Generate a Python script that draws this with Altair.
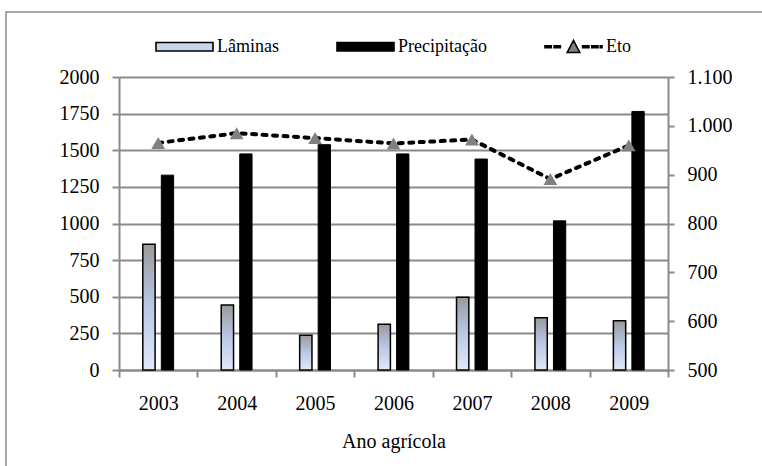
import altair as alt
import pandas as pd

# ---- data ----
anos = ["2003", "2004", "2005", "2006", "2007", "2008", "2009"]
laminas = [858, 444, 237, 312, 497, 357, 337]
precipitacao = [1330, 1475, 1538, 1475, 1440, 1018, 1765]
eto = [965, 985, 975, 964, 972, 891, 960]
series = ["Lâminas", "Precipitação", "Eto"]
left_ticks = [0, 250, 500, 750, 1000, 1250, 1500, 1750, 2000]
right_ticks = [500, 600, 700, 800, 900, 1000, 1100]

FONT = "Times New Roman"
GRAY = "#8a8a8a"

bars_df = pd.DataFrame({
    "Ano": anos * 2,
    "Serie": ["Lâminas"] * len(anos) + ["Precipitação"] * len(anos),
    "Valor": laminas + precipitacao,
})
eto_df = pd.DataFrame({"Ano": anos, "Eto": eto})
legend_df = pd.DataFrame({"Ano": [anos[0]] * 3, "Serie": series, "Eto": [eto[0]] * 3})

x_enc = alt.X(
    "Ano:N",
    scale=alt.Scale(paddingInner=0, paddingOuter=0),
    axis=alt.Axis(
        title="Ano agrícola", labelAngle=0, tickBand="extent",
        labelFont=FONT, labelFontSize=20, labelColor="black", labelPadding=16,
        titleFont=FONT, titleFontSize=20, titleFontWeight="normal", titleColor="black",
        titlePadding=18,
        domainColor=GRAY, domainWidth=2, tickColor=GRAY, tickWidth=2, tickSize=7,
        grid=False,
    ),
)
# two empty slots around the pair of bars keep the pair centred in each year
xoff_enc = alt.XOffset(
    "Serie:N",
    scale=alt.Scale(domain=["_a", "Lâminas", "Precipitação", "_b"], paddingInner=0.335, paddingOuter=0.287),
)
y_left = alt.Y(
    "Valor:Q",
    scale=alt.Scale(domain=[0, 2000], nice=False),
    axis=alt.Axis(
        title=None, values=left_ticks, format="d",
        labelFont=FONT, labelFontSize=20, labelColor="black", labelPadding=13,
        domainColor=GRAY, domainWidth=2, tickColor=GRAY, tickWidth=2, tickSize=7,
        grid=True, gridColor=GRAY, gridWidth=2,
    ),
)
right_axis = alt.Axis(
    title=None, orient="right", values=right_ticks,
    labelExpr="replace(format(datum.value, ','), ',', '.')",
    labelFont=FONT, labelFontSize=20, labelColor="black", labelPadding=13,
    domainColor=GRAY, domainWidth=2, tickColor=GRAY, tickWidth=2, tickSize=6,
    grid=False,
)
y_right = alt.Y("Eto:Q", scale=alt.Scale(domain=[500, 1100], nice=False), axis=right_axis)

grad = alt.Gradient(
    gradient="linear", x1=0, y1=0, x2=0, y2=1,
    stops=[
        alt.GradientStop(offset=0, color="#9a9a9a"),
        alt.GradientStop(offset=0.5, color="#b9c8e8"),
        alt.GradientStop(offset=1, color="#e1e9f7"),
    ],
)

bar_lam = alt.Chart(bars_df).transform_filter(alt.datum.Serie == "Lâminas").mark_bar(
    fill=grad, stroke="black", strokeWidth=1.5
).encode(x=x_enc, xOffset=xoff_enc, y=y_left)

bar_pre = alt.Chart(bars_df).transform_filter(alt.datum.Serie == "Precipitação").mark_bar(
    fill="black", stroke="black", strokeWidth=1
).encode(x=x_enc, xOffset=xoff_enc, y=y_left)

line = alt.Chart(eto_df).mark_line(
    color="black", strokeWidth=4, strokeDash=[4, 6.5], strokeCap="round"
).encode(x=x_enc, y=y_right)

pts = alt.Chart(eto_df).mark_point(
    shape="triangle-up", filled=True, color="#808080", size=190, opacity=1
).encode(x=x_enc, y=y_right)

rect_path = "M-1,-0.15H1V0.15H-1Z"
eto_path = ("M-1,-0.03H-0.78V0.03H-1Z M-0.68,-0.03H-0.46V0.03H-0.68Z "
            "M-0.22,0.2L0,-0.22L0.22,0.2Z "
            "M0.32,-0.03H0.54V0.03H0.32Z M0.64,-0.03H0.86V0.03H0.64Z M0.94,-0.03H1V0.03H0.94Z")

leg = alt.Legend(
    title=None, orient="none", direction="horizontal", legendX=36, legendY=-60,
    symbolSize=3249, symbolOpacity=1, symbolStrokeWidth=1.6,
    labelFont=FONT, labelFontSize=18, labelColor="black", labelOffset=3,
    columnPadding=54, padding=0,
)
legend_layer = alt.Chart(legend_df).mark_point(opacity=0, strokeWidth=1.6).encode(
    x=x_enc, y=y_right,
    fill=alt.Fill("Serie:N", scale=alt.Scale(domain=series, range=["#c9d5ee", "#000000", "#808080"]), legend=leg),
    stroke=alt.Stroke("Serie:N", scale=alt.Scale(domain=series, range=["#000000", "#000000", "#000000"]), legend=leg),
    shape=alt.Shape("Serie:N", scale=alt.Scale(domain=series, range=[rect_path, rect_path, eto_path]), legend=leg),
)

frame = alt.Chart(pd.DataFrame({"k": [0]})).mark_rect(
    fillOpacity=0, stroke=GRAY, strokeWidth=1.5
).encode(x=alt.value(-113), x2=alt.value(660), y=alt.value(-65), y2=alt.value(420))

left = alt.layer(bar_lam, bar_pre)
right = alt.layer(line, pts, legend_layer)

chart = alt.layer(frame, left, right).resolve_scale(y="independent").properties(
    width=549, height=293,
    autosize=alt.AutoSizeParams(type="none"),
    padding={"left": 119, "top": 77, "right": 94, "bottom": 96},
    background="white",
).configure_view(strokeWidth=0)

chart.save("out.html", embed_options={"renderer": "svg", "actions": False})
